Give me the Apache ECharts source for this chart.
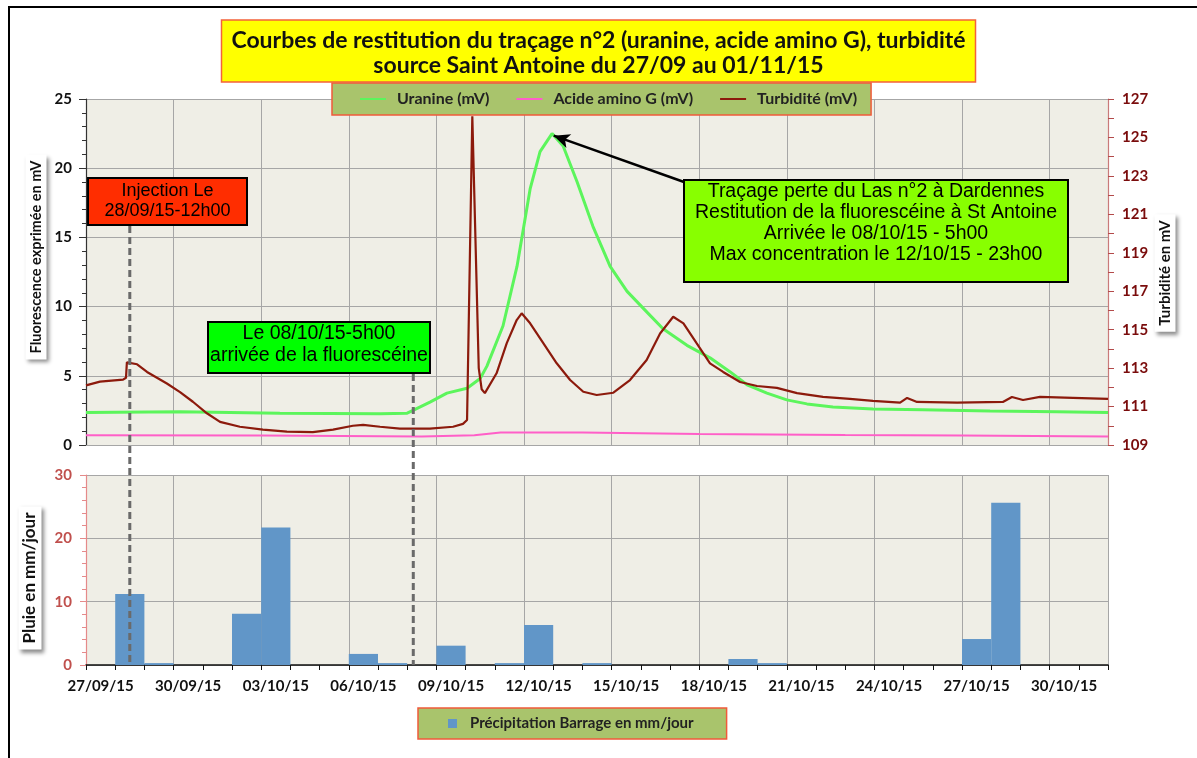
<!DOCTYPE html>
<html>
<head>
<meta charset="utf-8">
<script src="https://cdn.jsdelivr.net/npm/echarts@6/dist/echarts.min.js"></script>
<style>
  html, body { margin: 0; padding: 0; background: #ffffff; }
  #chart { width: 1197px; height: 758px; }
</style>
</head>
<body>
<div id="chart"></div>
<script>
// ---- Daily rain gauge (Barrage), one bar per day, 27/09/15 -> 31/10/15 ----
const days = [
  '27/09/15', '28/09/15', '29/09/15', '30/09/15', '01/10/15', '02/10/15', '03/10/15',
  '04/10/15', '05/10/15', '06/10/15', '07/10/15', '08/10/15', '09/10/15', '10/10/15',
  '11/10/15', '12/10/15', '13/10/15', '14/10/15', '15/10/15', '16/10/15', '17/10/15',
  '18/10/15', '19/10/15', '20/10/15', '21/10/15', '22/10/15', '23/10/15', '24/10/15',
  '25/10/15', '26/10/15', '27/10/15', '28/10/15', '29/10/15', '30/10/15', '31/10/15'
];
const rain = [
  0, 11.2, 0.3, 0, 0, 8.1, 21.7,
  0, 0, 1.75, 0.3, 0, 3.05, 0,
  0.3, 6.3, 0, 0.3, 0, 0, 0,
  0, 0.95, 0.3, 0, 0, 0, 0,
  0, 0, 4.1, 25.6, 0, 0, 0
];

// ---- Probe readings; time in days since 27/09/15 00:00 ----
// Uranine (mV, left axis)
const uranineT = [0, 3.22, 6.64, 10.07, 11.0, 11.2, 11.78, 12.36, 13.05, 13.5, 13.73, 14.28, 14.76,
  15.21, 15.55, 15.96, 16.34, 16.82, 17.36, 17.95, 18.53, 19.21, 19.76, 20.58, 21.37, 22.05,
  22.64, 23.32, 24.0, 24.69, 25.58, 26.95, 28.66, 30.96, 33.25, 35.0];
const uranineV = [2.35, 2.4, 2.3, 2.25, 2.3, 2.5, 3.1, 3.75, 4.1, 4.8, 5.7, 8.6, 12.9,
  18.5, 21.2, 22.5, 21.6, 19.0, 15.8, 12.9, 11.1, 9.6, 8.4, 7.2, 6.3, 5.3,
  4.35, 3.75, 3.26, 2.97, 2.75, 2.6, 2.54, 2.46, 2.4, 2.35];

// Acide amino G (mV, left axis)
const amgT = [0, 6, 11.5, 13.3, 14.2, 17, 21, 26, 30, 35];
const amgV = [0.7, 0.68, 0.62, 0.7, 0.9, 0.9, 0.8, 0.72, 0.68, 0.62];

// Turbidité (mV, right axis)
const turbT = [0, 0.48, 1.27, 1.37, 1.40, 1.75, 2.09, 2.77, 3.22, 3.66, 4.14, 4.59, 5.27, 6.06,
  6.88, 7.77, 8.46, 9.14, 9.49, 10.07, 10.75, 11.78, 12.57, 12.91, 13.05, 13.09, 13.23,
  13.45, 13.55, 13.66, 14.06, 14.41, 14.75, 14.92, 15.21, 15.66, 16.12, 16.58, 17.03,
  17.49, 18.06, 18.63, 19.2, 19.66, 20.11, 20.46, 20.91, 21.37, 21.82, 22.4, 22.98,
  23.66, 24.35, 25.24, 26.16, 26.95, 27.88, 28.12, 28.46, 29.83, 31.4, 31.71, 32.09,
  32.67, 33.8, 35.0];
const turbV = [112.1, 112.3, 112.4, 112.5, 113.3, 113.2, 112.8, 112.2, 111.75, 111.25, 110.65,
  110.2, 109.95, 109.8, 109.7, 109.67, 109.8, 110.0, 110.05, 109.95, 109.85, 109.85,
  109.95, 110.1, 110.3, 110.4, 126.1, 113.0, 111.9, 111.7, 112.73, 114.3, 115.5, 115.85,
  115.33, 114.3, 113.25, 112.38, 111.77, 111.6, 111.72, 112.38, 113.42, 114.8, 115.67,
  115.33, 114.3, 113.25, 112.8, 112.28, 112.07, 111.97, 111.7, 111.5, 111.4, 111.3,
  111.2, 111.45, 111.24, 111.2, 111.24, 111.5, 111.34, 111.5, 111.45, 111.4];

// Right-axis tick values
const turbLabels = [109, 111, 113, 115, 117, 119, 121, 123, 125, 127];
const turbTicks = [109, 110, 111, 112, 113, 114, 115, 116, 117, 118, 119, 120, 121, 122, 123,
  124, 125, 126, 127];

// Key moments (days since 27/09/15 00:00)
const injectionT = 1.5;          // 28/09/15 12h00
const arrivalT = 11 + 5 / 24;    // 08/10/15 5h00
const peakT = 15 + 23 / 24;      // 12/10/15 23h00

const zip = (t, v) => t.map((x, i) => [x, v[i]]);

const FONT = 'Lato, "Open Sans", sans-serif';
const GRID = '#a6a6a6';
const PLOT_BG = '#efeee6';

const chart = echarts.init(document.getElementById('chart'), null, { renderer: 'canvas' });

const option = {
  animation: false,
  backgroundColor: '#ffffff',
  title: {
    text: 'Courbes de restitution du traçage n°2 (uranine, acide amino G), turbidité\nsource Saint Antoine du 27/09 au 01/11/15',
    left: 'center',
    top: 20,
    backgroundColor: '#ffff00',
    borderColor: '#f4623a',
    borderWidth: 1.5,
    padding: [8, 10, 4, 10],
    textStyle: { fontFamily: FONT, fontWeight: 'bold', fontSize: 23, lineHeight: 25, color: '#111', align: 'center' }
  },
  legend: [
    {
      data: [
        { name: 'Uranine (mV)', icon: 'rect' },
        { name: 'Acide amino G (mV)', icon: 'rect' },
        { name: 'Turbidité (mV)', icon: 'rect' }
      ],
      left: 332, top: 83,
      orient: 'horizontal',
      itemWidth: 26, itemHeight: 2, itemGap: 27,
      padding: [8, 14, 8, 28],
      backgroundColor: '#a9c46c',
      borderColor: '#f05a3a', borderWidth: 1.5,
      textStyle: { fontFamily: FONT, fontWeight: 'bold', fontSize: 16, color: '#222', padding: [0, 0, 0, 6] }
    },
    {
      data: [{ name: 'Précipitation Barrage en mm/jour', icon: 'rect' }],
      left: 418, top: 708,
      itemWidth: 9, itemHeight: 9, itemGap: 10,
      padding: [8, 33, 8, 30],
      backgroundColor: '#a9c46c',
      borderColor: '#f05a3a', borderWidth: 1.5,
      textStyle: { fontFamily: FONT, fontWeight: 'bold', fontSize: 15, color: '#222', padding: [0, 0, 0, 8] }
    }
  ],
  grid: [
    { left: 86, right: 89, top: 99, height: 346, show: true, backgroundColor: PLOT_BG, borderWidth: 0, outerBoundsMode: 'none' },
    { left: 86, right: 89, top: 475, height: 190, show: true, backgroundColor: PLOT_BG, borderWidth: 0, outerBoundsMode: 'none' }
  ],
  xAxis: [
    {
      type: 'value', gridIndex: 0, min: 0, max: 35, interval: 3,
      axisLabel: { show: false }, axisTick: { show: false },
      axisLine: { show: true, lineStyle: { color: GRID } },
      splitLine: { show: true, lineStyle: { color: GRID, width: 1 } }
    },
    {
      type: 'category', gridIndex: 1, data: days, boundaryGap: true,
      axisLine: { show: true, onZero: false, lineStyle: { color: '#111', width: 1.5 } },
      axisTick: { show: true, interval: 0, length: 5, lineStyle: { color: '#111' } },
      axisLabel: { interval: 2, margin: 14, fontFamily: FONT, fontWeight: 'bold', fontSize: 15, color: '#111' },
      splitLine: { show: true, interval: 2, lineStyle: { color: GRID, width: 1 } }
    }
  ],
  yAxis: [
    {
      type: 'value', gridIndex: 0, position: 'left', min: 0, max: 25, interval: 5,
      axisLine: { show: true, lineStyle: { color: '#333', width: 1.2 } },
      axisTick: { show: true, length: 7, lineStyle: { color: '#333' } },
      minorTick: { show: true, splitNumber: 5, length: 4, lineStyle: { color: '#333' } },
      splitLine: { show: true, lineStyle: { color: GRID } },
      axisLabel: { margin: 14, fontFamily: FONT, fontWeight: 'bold', fontSize: 15, color: '#111' }
    },
    {
      type: 'value', gridIndex: 0, position: 'right', min: 109, max: 127,
      axisLine: { show: true, lineStyle: { color: '#c97a7a', width: 1.2 } },
      axisTick: { show: true, customValues: turbTicks, length: 6, lineStyle: { color: '#b34a4a' } },
      axisLabel: { customValues: turbLabels, margin: 14, fontFamily: FONT, fontWeight: 'bold', fontSize: 15, color: '#7a0c0c' },
      splitLine: { show: false }
    },
    {
      type: 'value', gridIndex: 1, position: 'left', min: 0, max: 30, interval: 10,
      axisLine: { show: true, lineStyle: { color: '#e58a8a', width: 1.2 } },
      axisTick: { show: true, length: 6, lineStyle: { color: '#e58a8a' } },
      minorTick: { show: true, splitNumber: 5, length: 4, lineStyle: { color: '#e58a8a' } },
      splitLine: { show: true, lineStyle: { color: GRID } },
      axisLabel: { margin: 14, fontFamily: FONT, fontWeight: 'bold', fontSize: 15, color: '#c0504d' }
    }
  ],
  series: [
    {
      name: 'Uranine (mV)', type: 'line', xAxisIndex: 0, yAxisIndex: 0,
      data: zip(uranineT, uranineV), showSymbol: false, symbol: 'none', z: 4,
      color: '#5cf55c', lineStyle: { color: '#5cf55c', width: 3 }
    },
    {
      name: 'Acide amino G (mV)', type: 'line', xAxisIndex: 0, yAxisIndex: 0,
      data: zip(amgT, amgV), showSymbol: false, symbol: 'none', z: 3,
      color: '#ff5fc8', lineStyle: { color: '#ff5fc8', width: 2 }
    },
    {
      name: 'Turbidité (mV)', type: 'line', xAxisIndex: 0, yAxisIndex: 1,
      data: zip(turbT, turbV), showSymbol: false, symbol: 'none', z: 5,
      color: '#8c1a0c', lineStyle: { color: '#8c1a0c', width: 2.2 }
    },
    {
      name: 'Précipitation Barrage en mm/jour', type: 'bar', xAxisIndex: 1, yAxisIndex: 2,
      data: rain, barCategoryGap: '0%', barGap: '0%',
      color: '#6196c8', itemStyle: { color: '#6196c8' }
    }
  ]
};

chart.setOption(option);

// ---- Annotations positioned from the axes ----
const injX = chart.convertToPixel({ xAxisIndex: 0, yAxisIndex: 0 }, [injectionT, 0])[0];
const arrX = chart.convertToPixel({ xAxisIndex: 0, yAxisIndex: 0 }, [arrivalT, 0])[0];
const rainBase = chart.convertToPixel({ xAxisIndex: 1, yAxisIndex: 2 }, [0, 0])[1];
const peakV = Math.max.apply(null, uranineV);
const arrowEnd = chart.convertFromPixel({ xAxisIndex: 0, yAxisIndex: 0 }, [684, 182]);

const BOX_FONT = '"Liberation Sans", Arial, sans-serif';
function noteBox(x, y, w, h, fill, text, size, lineH, textTop) {
  return {
    type: 'group', z: 100,
    children: [
      { type: 'rect', shape: { x: x, y: y, width: w, height: h },
        style: { fill: fill, stroke: '#000', lineWidth: 2 } },
      { type: 'text', x: x + w / 2, y: y + textTop,
        style: { text: text, font: size + 'px ' + BOX_FONT, fill: '#000', align: 'center', verticalAlign: 'top', lineHeight: lineH } }
    ]
  };
}
function axisTitle(cx, cy, text, size) {
  return {
    type: 'text', x: cx, y: cy, rotation: Math.PI / 2, z: 50,
    style: {
      text: text, font: 'bold ' + size + 'px ' + FONT, fill: '#111',
      align: 'center', verticalAlign: 'middle',
      backgroundColor: '#ffffff', padding: [3, 6, 3, 6],
      shadowColor: 'rgba(0,0,0,0.45)', shadowBlur: 4, shadowOffsetX: 2, shadowOffsetY: 3
    }
  };
}

chart.setOption({
  series: [{
    name: 'Uranine (mV)',
    markLine: {
      silent: true, animation: false,
      symbol: ['arrow', 'none'], symbolSize: [11, 16],
      lineStyle: { color: '#000', width: 2.5, type: 'solid' },
      label: { show: false },
      data: [[{ coord: [peakT + 0.06, peakV - 0.15] }, { coord: arrowEnd }]]
    }
  }],
  graphic: [
    // page frame
    { type: 'polyline', z: 200, shape: { points: [[9, 758], [9, 7], [1197, 7]] },
      style: { stroke: '#000', lineWidth: 2, fill: null } },
    // event markers
    { type: 'line', z: 90, shape: { x1: injX, y1: 226, x2: injX, y2: rainBase },
      style: { stroke: '#6a6a6a', lineWidth: 3, lineDash: [7, 4] } },
    { type: 'line', z: 90, shape: { x1: arrX, y1: 374, x2: arrX, y2: rainBase },
      style: { stroke: '#6a6a6a', lineWidth: 3, lineDash: [7, 4] } },
    noteBox(88, 178, 159, 47, '#ff2d00', 'Injection Le\n28/09/15-12h00', 18, 20, 3),
    noteBox(208, 322, 222, 51, '#00ff00', 'Le 08/10/15-5h00\narrivée de la fluorescéine', 19.5, 22, 1),
    noteBox(684, 180, 384, 102, '#88ff00',
      'Traçage perte du Las n°2 à Dardennes\nRestitution de la fluorescéine à St Antoine\nArrivée le 08/10/15 - 5h00\nMax concentration le 12/10/15 - 23h00', 19.5, 21, 1),
    axisTitle(36, 257, 'Fluorescence exprimée en mV', 14.5),
    axisTitle(30, 578, 'Pluie en mm/jour', 17),
    axisTitle(1165, 273, 'Turbidité en mV', 15)
  ]
});
</script>
</body>
</html>
